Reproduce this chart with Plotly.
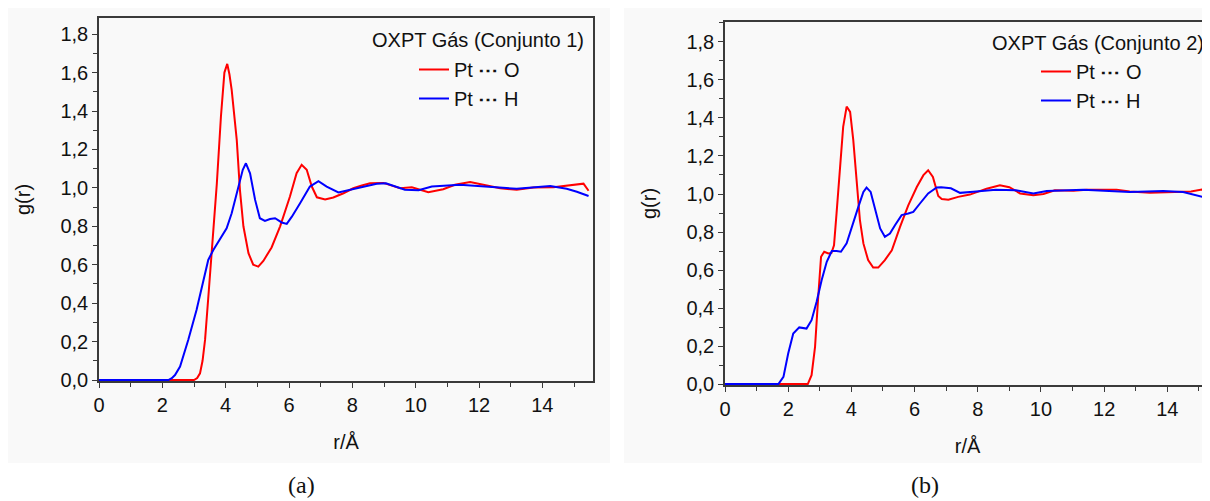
import plotly.graph_objects as go

# ---------------- data ----------------
# Panel (a) - OXPT Gás (Conjunto 1)
r_a_O = [0.0, 1.0, 2.0, 3.0, 3.1, 3.19, 3.27, 3.35, 3.47, 3.56, 3.64, 3.72, 3.85, 3.96, 4.05, 4.12,
         4.19, 4.27, 4.35, 4.45, 4.56, 4.72, 4.87, 5.03, 5.19, 5.45, 5.72, 6.03, 6.24, 6.4, 6.56,
         6.72, 6.88, 7.14, 7.4, 7.72, 8.03, 8.3, 8.56, 8.98, 9.51, 9.88, 10.14, 10.4, 10.87, 11.24,
         11.72, 12.03, 12.67, 13.19, 13.72, 14.35, 14.77, 15.14, 15.3, 15.46]
g_a_O = [0.0, 0.0, 0.0, 0.0, 0.01, 0.035, 0.1, 0.21, 0.47, 0.66, 0.84, 1.02, 1.37, 1.6, 1.645, 1.59,
         1.51, 1.39, 1.25, 0.99, 0.80, 0.66, 0.60, 0.59, 0.62, 0.69, 0.80, 0.955, 1.076, 1.12, 1.094,
         1.007, 0.951, 0.94, 0.95, 0.972, 0.998, 1.012, 1.024, 1.026, 0.998, 1.003, 0.99, 0.977, 0.993, 1.016,
         1.03, 1.019, 0.998, 0.99, 1.002, 1.003, 1.01, 1.019, 1.022, 0.985]

r_a_H = [0.0, 1.0, 2.0, 2.19, 2.3, 2.4, 2.56, 2.82, 3.08, 3.3, 3.45, 3.61, 3.87, 4.03, 4.19, 4.4,
         4.54, 4.64, 4.77, 4.93, 5.08, 5.24, 5.4, 5.56, 5.77, 5.93, 6.09, 6.35, 6.66, 6.93, 7.19,
         7.56, 8.03, 8.4, 8.77, 9.06, 9.66, 10.09, 10.51, 11.4, 12.25, 13.19, 14.25, 14.77, 15.09, 15.46]
g_a_H = [0.0, 0.0, 0.0, 0.0, 0.01, 0.026, 0.07, 0.21, 0.365, 0.52, 0.625, 0.677, 0.746, 0.79, 0.868, 1.007,
         1.094, 1.128, 1.076, 0.9375, 0.842, 0.828, 0.838, 0.842, 0.82, 0.8125, 0.85, 0.92, 1.007, 1.035, 1.007,
         0.976, 0.993, 1.008, 1.021, 1.024, 0.99, 0.988, 1.007, 1.016, 1.007, 0.995, 1.01, 0.995, 0.98, 0.958]

# Panel (b) - OXPT Gás (Conjunto 2)
r_b_O = [0.0, 1.0, 2.0, 2.62, 2.74, 2.85, 2.95, 3.04, 3.14, 3.27, 3.37, 3.45, 3.53, 3.64, 3.74, 3.85,
         3.96, 4.06, 4.17, 4.27, 4.38, 4.53, 4.69, 4.85, 5.06, 5.28, 5.54, 5.8, 6.07, 6.28, 6.43, 6.58,
         6.75, 6.86, 7.07, 7.38, 7.75, 8.28, 8.7, 9.0, 9.34, 9.76, 10.08, 10.44, 11.03, 11.44, 12.39,
         12.81, 13.45, 14.08, 14.75, 15.09, 15.35]
g_b_O = [0.0, 0.0, 0.0, 0.0, 0.047, 0.196, 0.459, 0.67, 0.696, 0.687, 0.69, 0.73, 0.897, 1.16, 1.353, 1.46,
         1.432, 1.283, 1.072, 0.862, 0.74, 0.652, 0.613, 0.613, 0.652, 0.704, 0.827, 0.94, 1.037, 1.099, 1.125, 1.09,
         0.99, 0.974, 0.97, 0.985, 0.997, 1.028, 1.046, 1.036, 1.003, 0.994, 1.0, 1.02, 1.017, 1.023, 1.023,
         1.013, 1.006, 1.011, 1.013, 1.023, 1.0]

r_b_H = [0.0, 1.0, 1.69, 1.85, 2.0, 2.16, 2.35, 2.58, 2.74, 2.9, 3.06, 3.22, 3.38, 3.53, 3.67, 3.85,
         4.01, 4.22, 4.38, 4.48, 4.61, 4.75, 4.91, 5.06, 5.22, 5.38, 5.59, 5.8, 5.96, 6.17, 6.43, 6.7,
         6.84, 7.15, 7.44, 7.86, 8.57, 9.2, 9.76, 10.18, 11.34, 12.81, 13.87, 14.5, 14.85, 15.35]
g_b_H = [0.0, 0.0, 0.0, 0.038, 0.161, 0.266, 0.298, 0.292, 0.336, 0.433, 0.547, 0.643, 0.70, 0.70, 0.696, 0.74,
         0.827, 0.932, 1.011, 1.034, 1.011, 0.915, 0.819, 0.775, 0.792, 0.836, 0.889, 0.897, 0.906, 0.95, 1.003, 1.034,
         1.036, 1.03, 1.006, 1.012, 1.023, 1.02, 1.003, 1.016, 1.023, 1.011, 1.016, 1.01, 0.994, 0.975]

series_names = ["Pt <b>\u22ef</b> O", "Pt <b>\u22ef</b> H"]
panel_titles = ["OXPT Gás (Conjunto 1)", "OXPT Gás (Conjunto 2)"]
captions = ["(a)", "(b)"]
x_title = "r/Å"
y_title = "g(r)"

RED = "#ff0000"
BLUE = "#0000ff"
FONT = "Liberation Sans, Arial, sans-serif"
OFF = 8                 # page body margin of the browser
W, H = 1210 - OFF, 501 - OFF

fig = go.Figure()
fig.add_trace(go.Scatter(x=r_a_O, y=g_a_O, mode="lines", name=series_names[0],
                         line=dict(color=RED, width=2), xaxis="x", yaxis="y", legend="legend"))
fig.add_trace(go.Scatter(x=r_a_H, y=g_a_H, mode="lines", name=series_names[1],
                         line=dict(color=BLUE, width=2), xaxis="x", yaxis="y", legend="legend"))
fig.add_trace(go.Scatter(x=r_b_O, y=g_b_O, mode="lines", name=series_names[0],
                         line=dict(color=RED, width=2), xaxis="x2", yaxis="y2", legend="legend2"))
fig.add_trace(go.Scatter(x=r_b_H, y=g_b_H, mode="lines", name=series_names[1],
                         line=dict(color=BLUE, width=2), xaxis="x2", yaxis="y2", legend="legend2"))


def px_x(p):
    return (p - OFF) / W


def px_y(p):
    return (H - (p - OFF)) / H


axis_common = dict(showgrid=False, zeroline=False, showline=True, linecolor="#3a3a3a", linewidth=1.5,
                   ticks="outside", ticklen=5, tickwidth=1.2, tickcolor="#3a3a3a",
                   tickfont=dict(family=FONT, size=20, color="#111"), layer="below traces")

xa = dict(axis_common, dtick=2, tick0=0, tickformat="d",
          minor=dict(dtick=1, ticks="outside", ticklen=4, tickcolor="#3a3a3a", tickwidth=1.2),
          title=dict(text=x_title, font=dict(family=FONT, size=20, color="#111"), standoff=20))
ya = dict(axis_common, dtick=0.2, tick0=0, tickformat=".1f",
          minor=dict(dtick=0.1, ticks="outside", ticklen=4, tickcolor="#3a3a3a", tickwidth=1.2),
          title=dict(text=y_title, font=dict(family=FONT, size=20, color="#111"), standoff=24))

fig.update_layout(
    width=W, height=H,
    margin=dict(l=0, r=0, t=0, b=0, autoexpand=False),
    paper_bgcolor="white", plot_bgcolor="rgba(0,0,0,0)",
    separators=",.",
    font=dict(family=FONT, size=20, color="#111"),
    xaxis=dict(xa, domain=[px_x(99), px_x(593)], range=[0, 15.6], anchor="y", mirror=True),
    yaxis=dict(ya, domain=[px_y(381), px_y(18)], range=[-0.005, 1.884], anchor="x", mirror=True),
    xaxis2=dict(xa, domain=[px_x(725), 1.0], range=[0, 15.35], anchor="y2", mirror=True),
    yaxis2=dict(ya, domain=[px_y(385), px_y(22)], range=[-0.005, 1.905], anchor="x2", mirror=False),
    legend=dict(x=px_x(414), y=px_y(50), xanchor="left", yanchor="top", bgcolor="rgba(0,0,0,0)",
                font=dict(family=FONT, size=20, color="#111"), tracegroupgap=0, itemclick=False),
    legend2=dict(x=px_x(1036), y=px_y(52), xanchor="left", yanchor="top", bgcolor="rgba(0,0,0,0)",
                 font=dict(family=FONT, size=20, color="#111"), tracegroupgap=0, itemclick=False),
    shapes=[
        dict(type="rect", xref="paper", yref="paper", x0=0, x1=px_x(610), y0=px_y(463), y1=1,
             fillcolor="#f9f9f9", line=dict(width=0), layer="below"),
        dict(type="rect", xref="paper", yref="paper", x0=px_x(624), x1=1, y0=px_y(463), y1=1,
             fillcolor="#f9f9f9", line=dict(width=0), layer="below"),
    ],
    annotations=[
        dict(text=panel_titles[0], xref="paper", yref="paper", x=px_x(586), y=px_y(40),
             xanchor="right", yanchor="middle", showarrow=False, font=dict(family=FONT, size=20, color="#111")),
        dict(text=panel_titles[1], xref="paper", yref="paper", x=px_x(1206), y=px_y(43),
             xanchor="right", yanchor="middle", showarrow=False, font=dict(family=FONT, size=20, color="#111")),
        dict(text=captions[0], xref="paper", yref="paper", x=px_x(301), y=px_y(485),
             xanchor="center", yanchor="middle", showarrow=False,
             font=dict(family="Liberation Serif, serif", size=24, color="#111")),
        dict(text=captions[1], xref="paper", yref="paper", x=px_x(925), y=px_y(485),
             xanchor="center", yanchor="middle", showarrow=False,
             font=dict(family="Liberation Serif, serif", size=24, color="#111")),
    ],
)

fig.write_html("out.html")
